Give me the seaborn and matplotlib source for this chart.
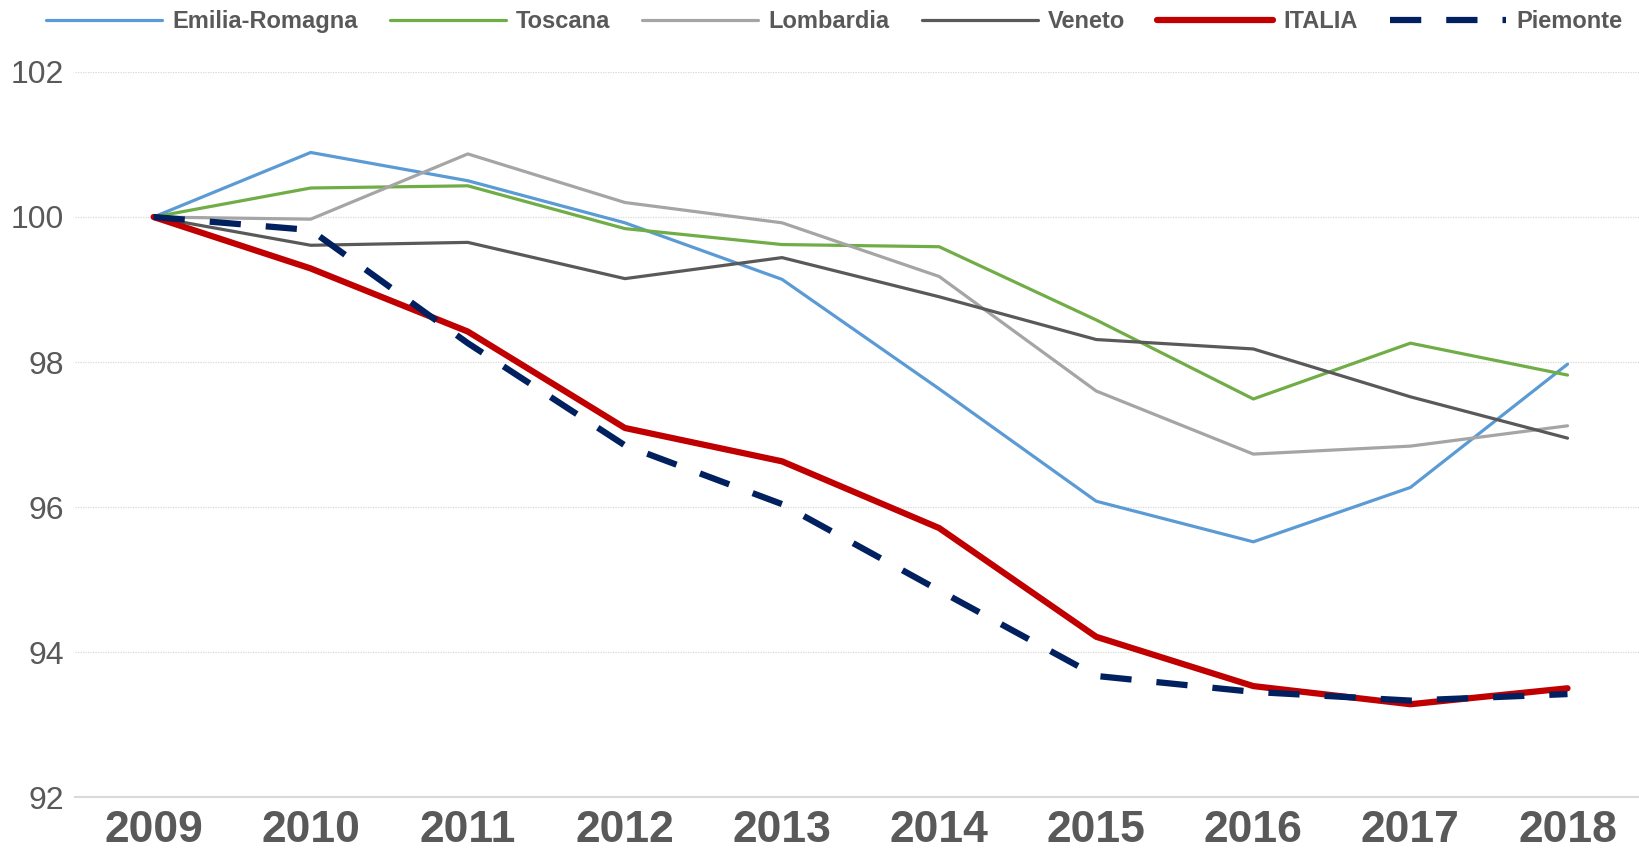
import pandas as pd
import matplotlib
matplotlib.use('Agg')
import matplotlib.pyplot as plt
import seaborn as sns

# Values (index, 2009 = 100)
years = [2009, 2010, 2011, 2012, 2013, 2014, 2015, 2016, 2017, 2018]
emilia_romagna = [100, 100.89, 100.50, 99.92, 99.14, 97.63, 96.08, 95.52, 96.27, 97.97]
toscana = [100, 100.40, 100.43, 99.84, 99.62, 99.59, 98.58, 97.49, 98.26, 97.82]
lombardia = [100, 99.97, 100.87, 100.20, 99.92, 99.18, 97.60, 96.73, 96.84, 97.12]
veneto = [100, 99.61, 99.65, 99.15, 99.44, 98.90, 98.31, 98.18, 97.52, 96.95]
italia = [100, 99.29, 98.42, 97.09, 96.63, 95.71, 94.21, 93.53, 93.28, 93.50]
piemonte = [100, 99.82, 98.26, 96.85, 96.04, 94.85, 93.67, 93.45, 93.33, 93.42]

series_names = ['Emilia-Romagna', 'Toscana', 'Lombardia', 'Veneto', 'ITALIA', 'Piemonte']
series_values = [emilia_romagna, toscana, lombardia, veneto, italia, piemonte]
y_ticks = [92, 94, 96, 98, 100, 102]

colors = {'Emilia-Romagna': '#5B9BD5', 'Toscana': '#70AD47', 'Lombardia': '#A5A5A5',
          'Veneto': '#595959', 'ITALIA': '#C00000', 'Piemonte': '#002060'}
widths = {'Emilia-Romagna': 2.3, 'Toscana': 2.3, 'Lombardia': 2.3,
          'Veneto': 2.3, 'ITALIA': 4.5, 'Piemonte': 4.5}

df = pd.DataFrame({'anno': years * len(series_names),
                   'regione': [n for n in series_names for _ in years],
                   'valore': [v for vals in series_values for v in vals]})

sns.set_theme(style='white')
plt.rcParams['font.family'] = ['Liberation Sans', 'DejaVu Sans']
text_color = '#595959'

fig = plt.figure(figsize=(16.39, 8.55), dpi=100)
ax = fig.add_axes([0.0458, 0.0678, 0.9542, 0.848])

for name in series_names:
    sub = df[df['regione'] == name]
    line_kw = dict(color=colors[name], linewidth=widths[name], label=name, legend=False)
    if name == 'Piemonte':
        line_kw['dashes'] = (5, 4)
    sns.lineplot(data=sub, x='anno', y='valore', ax=ax, **line_kw)

ax.set_xlim(2008.5, 2018.455)
ax.set_ylim(92, 102)
ax.set_xticks(years)
ax.set_xticklabels([str(y) for y in years], fontsize=32, fontweight='bold', color=text_color)
ax.set_yticks(y_ticks)
ax.set_yticklabels([str(t) for t in y_ticks], fontsize=23, color=text_color)
ax.tick_params(axis='x', length=0, pad=9)
ax.tick_params(axis='y', length=0, pad=8)
ax.set_xlabel('')
ax.set_ylabel('')

ax.grid(axis='y', color='#D9D9D9', linewidth=0.9, linestyle=(0, (1, 1)))
ax.set_axisbelow(True)
for side in ['top', 'right', 'left']:
    ax.spines[side].set_visible(False)
ax.spines['bottom'].set_color('#D9D9D9')
ax.spines['bottom'].set_linewidth(1.5)

handles = ax.get_lines()[:len(series_names)]
leg = fig.legend(handles, series_names, loc='center', bbox_to_anchor=(0.509, 0.975), ncol=6,
                 frameon=False, handlelength=4.9, handletextpad=0.45, columnspacing=1.35,
                 prop={'size': 17, 'weight': 'bold'})
for t in leg.get_texts():
    t.set_color(text_color)

fig.savefig('out.png', dpi=100)
